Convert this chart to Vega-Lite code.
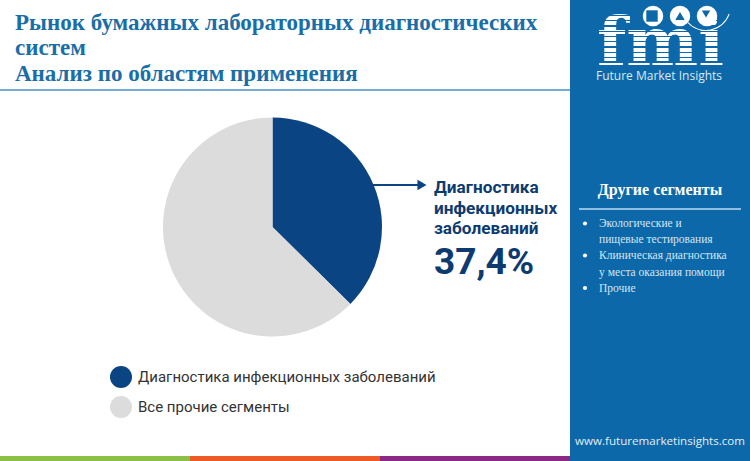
{
  "$schema": "https://vega.github.io/schema/vega-lite/v6.json",
  "width": 750,
  "height": 461,
  "autosize": {"type": "fit", "contains": "padding"},
  "padding": 0,
  "background": "white",
  "view": {"stroke": null},
  "datasets": {
    "shares": [
      {"segment": "Диагностика инфекционных заболеваний", "share": 37.4, "rank": 1},
      {"segment": "Все прочие сегменты", "share": 62.6, "rank": 2}
    ],
    "one": [{"n": 1}]
  },
  "layer": [
    {
      "data": {"name": "shares"},
      "mark": {"type": "arc", "x": 272.5, "y": 227, "outerRadius": 109.5},
      "encoding": {
        "theta": {"field": "share", "type": "quantitative", "stack": true},
        "order": {"field": "rank", "type": "ordinal"},
        "color": {
          "field": "segment",
          "type": "nominal",
          "scale": {
            "domain": ["Диагностика инфекционных заболеваний", "Все прочие сегменты"],
            "range": ["#0b4482", "#dcdcdc"]
          },
          "legend": {
            "title": null,
            "orient": "none",
            "legendX": 110,
            "legendY": 366,
            "symbolType": "circle",
            "symbolSize": 484,
            "symbolStrokeWidth": 0,
            "labelFont": "Roboto",
            "labelFontSize": 15,
            "labelColor": "#333333",
            "labelLimit": 400,
            "labelOffset": 6,
            "rowPadding": 8
          }
        }
      }
    },
    {
      "data": {"name": "one"},
      "mark": {"type": "rect", "x": 570, "x2": 750, "y": 0, "y2": 461, "fill": "#0c68a8"},
      "encoding": {}
    },
    {
      "data": {"name": "one"},
      "mark": {"type": "rect", "x": 0, "x2": 190, "y": 456, "y2": 461, "fill": "#8cc044"},
      "encoding": {}
    },
    {
      "data": {"name": "one"},
      "mark": {"type": "rect", "x": 190, "x2": 380, "y": 456, "y2": 461, "fill": "#ee5a24"},
      "encoding": {}
    },
    {
      "data": {"name": "one"},
      "mark": {"type": "rect", "x": 380, "x2": 570, "y": 456, "y2": 461, "fill": "#8a2a86"},
      "encoding": {}
    },
    {
      "data": {"name": "one"},
      "mark": {"type": "rect", "x": 0, "x2": 570, "y": 89, "y2": 91, "fill": "#76acd3"},
      "encoding": {}
    },
    {
      "data": {"values": [{"label": "Рынок бумажных лабораторных диагностических\nсистем\nАнализ по областям применения"}]},
      "mark": {"type": "text", "x": 15, "y": 29.5, "align": "left", "baseline": "alphabetic", "font": "Liberation Serif", "fontWeight": "bold", "fontSize": 23, "lineHeight": 25.5, "lineBreak": "\n", "color": "#1a6ea8"},
      "encoding": {"text": {"field": "label"}}
    },
    {
      "data": {"name": "one"},
      "mark": {"type": "rect", "x": 372, "x2": 420, "y": 184, "y2": 186, "fill": "#0b4482"},
      "encoding": {}
    },
    {
      "data": {"name": "one"},
      "mark": {"type": "point", "shape": "triangle-right", "x": 422, "y": 185, "size": 110, "filled": true, "opacity": 1, "color": "#0b4482"},
      "encoding": {}
    },
    {
      "data": {"values": [{"label": "Диагностика\nинфекционных\nзаболеваний"}]},
      "mark": {"type": "text", "x": 434, "y": 193, "align": "left", "baseline": "alphabetic", "font": "Roboto", "fontWeight": "bold", "fontSize": 17.2, "lineHeight": 20.5, "lineBreak": "\n", "color": "#0d3b70"},
      "encoding": {"text": {"field": "label"}}
    },
    {
      "data": {"values": [{"label": "37,4%"}]},
      "mark": {"type": "text", "x": 434, "y": 274, "align": "left", "baseline": "alphabetic", "font": "Roboto", "fontWeight": "bold", "fontSize": 37, "color": "#0d3b70"},
      "encoding": {"text": {"field": "label"}}
    },
    {
      "data": {"values": [{"label": "fmi"}]},
      "mark": {"type": "text", "x": 597, "y": 65, "align": "left", "baseline": "alphabetic", "font": "DejaVu Serif", "fontWeight": "bold", "fontSize": 68, "color": "white"},
      "encoding": {"text": {"field": "label"}}
    },
    {
      "data": {"name": "one"},
      "mark": {
        "type": "rect", "x": 590, "x2": 730, "y": 11, "y2": 69,
        "fill": {
          "gradient": "linear", "x1": 0, "y1": 0, "x2": 0, "y2": 1,
          "stops": [
            {"offset": 0, "color": "rgba(12,104,168,0)"},
            {"offset": 0.07, "color": "rgba(12,104,168,0)"},
            {"offset": 0.07, "color": "#0c68a8"},
            {"offset": 0.09, "color": "#0c68a8"},
            {"offset": 0.09, "color": "rgba(12,104,168,0)"},
            {"offset": 0.16, "color": "rgba(12,104,168,0)"},
            {"offset": 0.16, "color": "#0c68a8"},
            {"offset": 0.18, "color": "#0c68a8"},
            {"offset": 0.18, "color": "rgba(12,104,168,0)"},
            {"offset": 0.25, "color": "rgba(12,104,168,0)"},
            {"offset": 0.25, "color": "#0c68a8"},
            {"offset": 0.27, "color": "#0c68a8"},
            {"offset": 0.27, "color": "rgba(12,104,168,0)"},
            {"offset": 0.34, "color": "rgba(12,104,168,0)"},
            {"offset": 0.34, "color": "#0c68a8"},
            {"offset": 0.36, "color": "#0c68a8"},
            {"offset": 0.36, "color": "rgba(12,104,168,0)"},
            {"offset": 0.43, "color": "rgba(12,104,168,0)"},
            {"offset": 0.43, "color": "#0c68a8"},
            {"offset": 0.45, "color": "#0c68a8"},
            {"offset": 0.45, "color": "rgba(12,104,168,0)"},
            {"offset": 0.52, "color": "rgba(12,104,168,0)"},
            {"offset": 0.52, "color": "#0c68a8"},
            {"offset": 0.54, "color": "#0c68a8"},
            {"offset": 0.54, "color": "rgba(12,104,168,0)"},
            {"offset": 0.61, "color": "rgba(12,104,168,0)"},
            {"offset": 0.61, "color": "#0c68a8"},
            {"offset": 0.63, "color": "#0c68a8"},
            {"offset": 0.63, "color": "rgba(12,104,168,0)"},
            {"offset": 0.7, "color": "rgba(12,104,168,0)"},
            {"offset": 0.7, "color": "#0c68a8"},
            {"offset": 0.72, "color": "#0c68a8"},
            {"offset": 0.72, "color": "rgba(12,104,168,0)"},
            {"offset": 0.79, "color": "rgba(12,104,168,0)"},
            {"offset": 0.79, "color": "#0c68a8"},
            {"offset": 0.81, "color": "#0c68a8"},
            {"offset": 0.81, "color": "rgba(12,104,168,0)"},
            {"offset": 0.87, "color": "rgba(12,104,168,0)"},
            {"offset": 0.87, "color": "#0c68a8"},
            {"offset": 0.89, "color": "#0c68a8"},
            {"offset": 0.89, "color": "rgba(12,104,168,0)"},
            {"offset": 1, "color": "rgba(12,104,168,0)"}
          ]
        }
      },
      "encoding": {}
    },
    {
      "data": {"name": "one"},
      "mark": {"type": "point", "shape": "circle", "x": 653, "y": 16, "size": 420, "filled": true, "opacity": 1, "color": "white"},
      "encoding": {}
    },
    {
      "data": {"name": "one"},
      "mark": {"type": "point", "shape": "circle", "x": 680, "y": 16, "size": 420, "filled": true, "opacity": 1, "color": "white"},
      "encoding": {}
    },
    {
      "data": {"name": "one"},
      "mark": {"type": "point", "shape": "circle", "x": 707, "y": 16, "size": 420, "filled": true, "opacity": 1, "color": "white"},
      "encoding": {}
    },
    {
      "data": {"name": "one"},
      "mark": {"type": "point", "shape": "square", "x": 652, "y": 16, "size": 130, "filled": true, "opacity": 1, "color": "#0c68a8"},
      "encoding": {}
    },
    {
      "data": {"name": "one"},
      "mark": {"type": "point", "shape": "triangle-up", "x": 680, "y": 16, "size": 90, "filled": true, "opacity": 1, "color": "#0c68a8"},
      "encoding": {}
    },
    {
      "data": {"name": "one"},
      "mark": {"type": "point", "shape": "triangle-down", "x": 706, "y": 14, "size": 70, "filled": true, "opacity": 1, "color": "#0c68a8"},
      "encoding": {}
    },
    {
      "data": {"name": "one"},
      "mark": {"type": "arc", "x": 706, "y": 6, "innerRadius": 24, "outerRadius": 25, "theta": 1.9, "theta2": 4.0, "color": "white"},
      "encoding": {}
    },
    {
      "data": {"values": [{"label": "Future Market Insights"}]},
      "mark": {"type": "text", "x": 596, "y": 80, "align": "left", "baseline": "alphabetic", "font": "Open Sans", "fontSize": 12, "color": "#dbe9f4"},
      "encoding": {"text": {"field": "label"}}
    },
    {
      "data": {"values": [{"label": "Другие сегменты"}]},
      "mark": {"type": "text", "x": 660, "y": 195, "align": "center", "baseline": "alphabetic", "font": "Liberation Serif", "fontWeight": "bold", "fontSize": 16, "color": "white"},
      "encoding": {"text": {"field": "label"}}
    },
    {
      "data": {"name": "one"},
      "mark": {"type": "rect", "x": 579, "x2": 741, "y": 208, "y2": 210, "fill": "#8fbfe0"},
      "encoding": {}
    },
    {
      "data": {"values": [{"label": "Экологические и\nпищевые тестирования\nКлиническая диагностика\nу места оказания помощи\nПрочие"}]},
      "mark": {"type": "text", "x": 599, "y": 227, "align": "left", "baseline": "alphabetic", "font": "Liberation Serif", "fontSize": 11.5, "lineHeight": 16.2, "lineBreak": "\n", "color": "#d4e6f3"},
      "encoding": {"text": {"field": "label"}}
    },
    {
      "data": {"name": "one"},
      "mark": {"type": "point", "shape": "circle", "x": 585, "y": 223.5, "size": 18, "filled": true, "opacity": 1, "color": "white"},
      "encoding": {}
    },
    {
      "data": {"name": "one"},
      "mark": {"type": "point", "shape": "circle", "x": 585, "y": 255.5, "size": 18, "filled": true, "opacity": 1, "color": "white"},
      "encoding": {}
    },
    {
      "data": {"name": "one"},
      "mark": {"type": "point", "shape": "circle", "x": 585, "y": 288, "size": 18, "filled": true, "opacity": 1, "color": "white"},
      "encoding": {}
    },
    {
      "data": {"values": [{"label": "www.futuremarketinsights.com"}]},
      "mark": {"type": "text", "x": 575, "y": 445, "align": "left", "baseline": "alphabetic", "font": "Open Sans", "fontSize": 11.6, "color": "#e3eef6"},
      "encoding": {"text": {"field": "label"}}
    }
  ]
}
